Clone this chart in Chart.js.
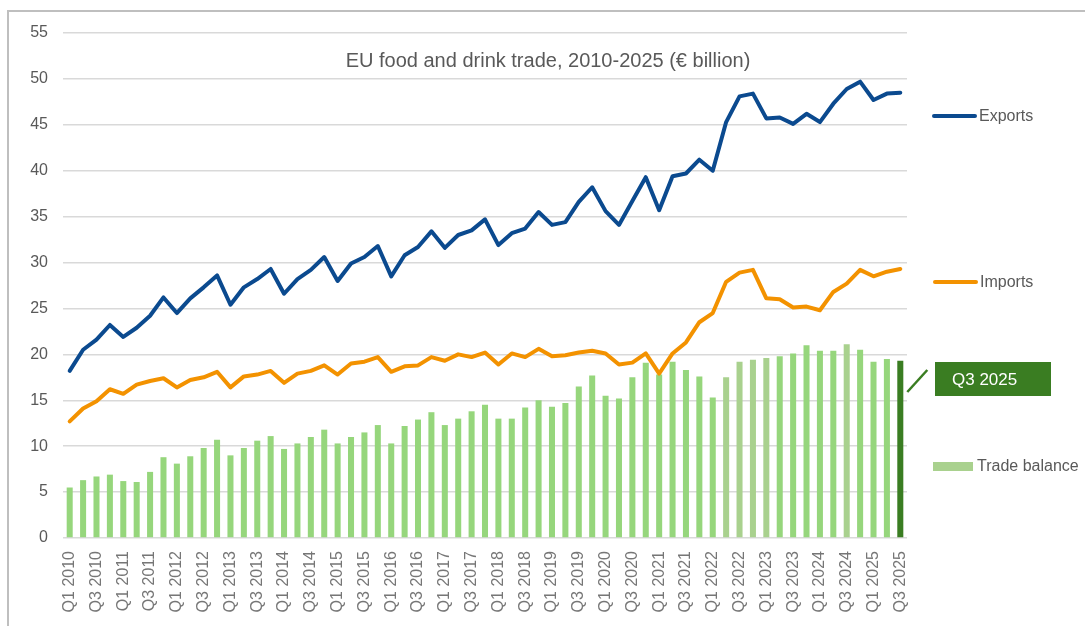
<!DOCTYPE html>
<html>
<head>
<meta charset="utf-8">
<script src="https://cdn.jsdelivr.net/npm/chart.js@4.4.1/dist/chart.umd.min.js"></script>
<style>
  html, body { margin: 0; padding: 0; background: #fff; }
  #wrap { position: relative; width: 1085px; height: 626px; }
</style>
</head>
<body>
<div id="wrap"><canvas id="tradeChart" width="1085" height="626"></canvas></div>
<script>
// ==================== DATA ====================
const years = [2010, 2011, 2012, 2013, 2014, 2015, 2016, 2017, 2018, 2019, 2020, 2021, 2022, 2023, 2024, 2025];
const quarters = [];
years.forEach(y => ['Q1', 'Q2', 'Q3', 'Q4'].forEach(q => quarters.push(q + ' ' + y)));
quarters.length = 63; // series ends at Q3 2025

const exportsBn = [
    18.2, 20.5, 21.6, 23.2, 21.9, 22.9, 24.2, 26.2, 24.5, 26.1, 27.3, 28.6,
    25.4, 27.3, 28.2, 29.3, 26.6, 28.2, 29.2, 30.6, 28.0, 29.9, 30.6, 31.8,
    28.5, 30.8, 31.7, 33.4, 31.6, 33.0, 33.5, 34.7, 31.9, 33.2, 33.7, 35.5,
    34.1, 34.4, 36.6, 38.2, 35.6, 34.1, 36.7, 39.3, 35.7, 39.4, 39.7, 41.2,
    40.0, 45.3, 48.1, 48.4, 45.7, 45.8, 45.1, 46.2, 45.3, 47.3, 48.9, 49.7,
    47.7, 48.4, 48.5
];
const importsBn = [
    12.7, 14.1, 14.9, 16.2, 15.7, 16.7, 17.1, 17.4, 16.4, 17.2, 17.5, 18.1,
    16.4, 17.6, 17.8, 18.2, 16.9, 17.9, 18.2, 18.8, 17.8, 19.0, 19.2, 19.7,
    18.1, 18.7, 18.8, 19.7, 19.3, 20.0, 19.7, 20.2, 18.9, 20.1, 19.7, 20.6,
    19.8, 19.9, 20.2, 20.4, 20.1, 18.9, 19.1, 20.1, 17.9, 20.1, 21.3, 23.5,
    24.5, 27.9, 28.9, 29.2, 26.1, 26.0, 25.1, 25.2, 24.8, 26.8, 27.7, 29.2,
    28.5, 29.0, 29.3
];
const balanceBn = [
    5.5, 6.3, 6.7, 6.9, 6.2, 6.1, 7.2, 8.8, 8.1, 8.9, 9.8, 10.7,
    9.0, 9.8, 10.6, 11.1, 9.7, 10.3, 11.0, 11.8, 10.3, 11.0, 11.5, 12.3,
    10.3, 12.2, 12.9, 13.7, 12.3, 13.0, 13.8, 14.5, 13.0, 13.0, 14.2, 15.0,
    14.3, 14.7, 16.5, 17.7, 15.5, 15.2, 17.5, 19.1, 17.8, 19.2, 18.3, 17.6,
    15.3, 17.5, 19.2, 19.4, 19.6, 19.8, 20.1, 21.0, 20.4, 20.4, 21.1, 20.5,
    19.2, 19.5, 19.3
];

// ==================== STYLE ====================
const FONT = "'Liberation Sans', Arial, sans-serif";
const TEXT = '#595959';
const BLUE = '#0b4a8f';
const ORANGE = '#f39200';
const BAR = '#96d67c';
const BAR_MUTED = '#a9d18e';
const BAR_LAST = '#3a7d22';
const mutedBars = [49, 50, 51, 52, 58];
const barColors = balanceBn.map((v, i) =>
    i === balanceBn.length - 1 ? BAR_LAST : mutedBars.includes(i) ? BAR_MUTED : BAR);

// frame, title, side legend and callout
const decorations = {
    id: 'decorations',
    beforeDraw(chart) {
        const c = chart.ctx;
        c.save();
        c.strokeStyle = '#bfbfbf';
        c.lineWidth = 2;
        c.beginPath();
        c.moveTo(8, 626);
        c.lineTo(8, 11);
        c.lineTo(1085, 11);
        c.stroke();
        c.restore();
    },
    afterDraw(chart) {
        const c = chart.ctx;
        const x = chart.scales.x;
        c.save();
        c.fillStyle = TEXT;
        c.textBaseline = 'middle';
        c.font = '20px ' + FONT;
        c.textAlign = 'center';
        c.fillText('EU food and drink trade, 2010-2025 (€ billion)', 548, 61);

        c.textAlign = 'left';
        c.font = '16px ' + FONT;
        c.lineCap = 'round';
        c.lineWidth = 4;
        c.strokeStyle = BLUE;
        c.beginPath(); c.moveTo(934, 116); c.lineTo(975, 116); c.stroke();
        c.fillText('Exports', 979, 117);
        c.strokeStyle = ORANGE;
        c.beginPath(); c.moveTo(935, 282); c.lineTo(976, 282); c.stroke();
        c.fillText('Imports', 980, 283);
        c.fillStyle = BAR_MUTED;
        c.fillRect(933, 462, 40, 9);
        c.fillStyle = TEXT;
        c.fillText('Trade balance', 977, 467);

        // callout for the latest quarter
        const lastX = x.getPixelForValue(quarters.length - 1);
        c.strokeStyle = BAR_LAST;
        c.lineWidth = 2.5;
        c.lineCap = 'butt';
        c.beginPath(); c.moveTo(lastX + 7, 392); c.lineTo(lastX + 27, 370); c.stroke();
        c.fillStyle = BAR_LAST;
        c.fillRect(935, 362, 116, 34);
        c.fillStyle = '#ffffff';
        c.font = '17px ' + FONT;
        c.fillText(quarters[quarters.length - 1], 952, 380);
        c.restore();
    }
};

// ==================== CHART ====================
const ctx = document.getElementById('tradeChart').getContext('2d');
const tradeChart = new Chart(ctx, {
    type: 'bar',
    data: {
        labels: quarters,
        datasets: [
            { type: 'line', label: 'Exports', data: exportsBn, borderColor: BLUE, borderWidth: 4, pointRadius: 0, tension: 0, borderJoinStyle: 'round', borderCapStyle: 'round', order: 0 },
            { type: 'line', label: 'Imports', data: importsBn, borderColor: ORANGE, borderWidth: 4, pointRadius: 0, tension: 0, borderJoinStyle: 'round', borderCapStyle: 'round', order: 1 },
            { type: 'bar', label: 'Trade balance', data: balanceBn, backgroundColor: barColors, barPercentage: 0.45, categoryPercentage: 1, order: 2 }
        ]
    },
    options: {
        responsive: false,
        animation: false,
        events: [],
        layout: { padding: { top: 33, right: 178, bottom: 0, left: 0 } },
        plugins: { legend: { display: false }, tooltip: { enabled: false }, title: { display: false } },
        scales: {
            x: {
                grid: { display: false },
                border: { display: false },
                ticks: {
                    autoSkip: false, minRotation: 90, maxRotation: 90, padding: 5,
                    color: '#767676', font: { family: FONT, size: 16 },
                    callback: (v, i) => i % 2 === 0 ? quarters[i] : ''
                },
                afterFit: s => { s.height = 88; }
            },
            y: {
                min: 0, max: 55,
                grid: { color: '#d9d9d9', lineWidth: 1.5, drawTicks: false },
                border: { display: false },
                ticks: { stepSize: 5, padding: 15, color: TEXT, font: { family: FONT, size: 16 } },
                afterFit: s => { s.width = 63; }
            }
        }
    },
    plugins: [decorations]
});
</script>
</body>
</html>
